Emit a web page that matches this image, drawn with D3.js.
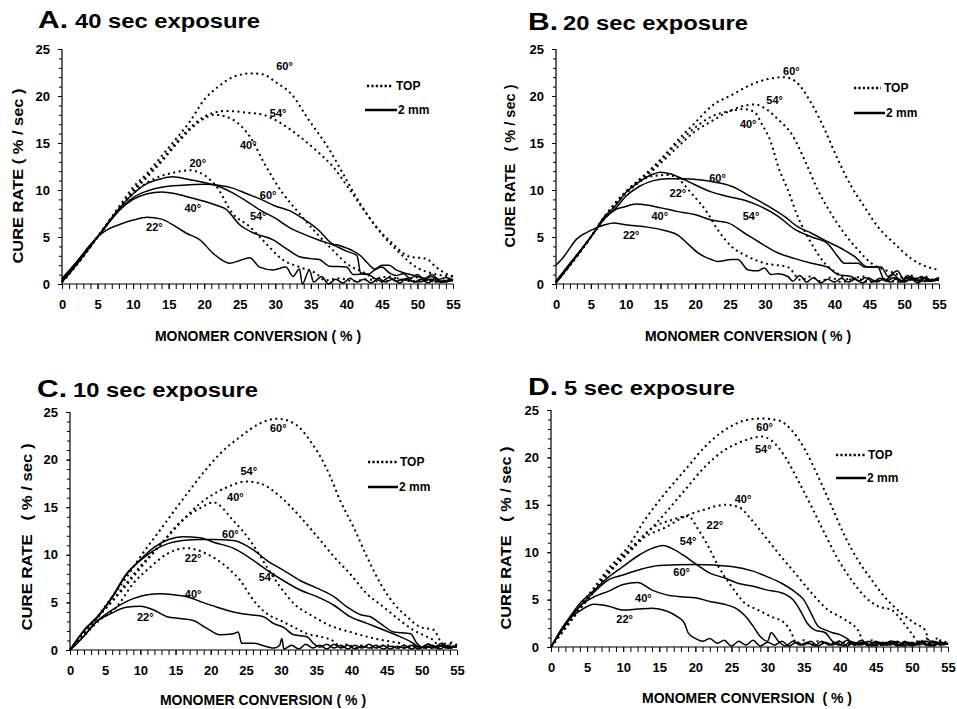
<!DOCTYPE html>
<html><head><meta charset="utf-8">
<script src="https://cdn.jsdelivr.net/npm/d3@7"></script>
<style>body{margin:0;background:#fff}svg{display:block}text{font-family:Arial,"Liberation Sans",sans-serif;font-weight:bold;fill:#000}</style>
</head><body>
<svg id="c" width="957" height="709"></svg>
<script>
// ---------- DATA (flat [x,y, x,y, ...] arrays, monomer conversion %, cure rate %/sec) ----------
const xTicks = [0,5,10,15,20,25,30,35,40,45,50,55];
const yTicks = [0,5,10,15,20,25];
const panelTitles = ["A.", "B.", "C.", "D."];
const exposures = ["40 sec exposure", "20 sec exposure", "10 sec exposure", "5 sec exposure"];
const legendNames = ["TOP", "2 mm"];

// Panel A: 40 s
const A_top60 = [0,0.3, 2,2, 5,5, 8,8.2, 10,10.3, 12,11.8, 14,13.6, 16,15.4, 18,17.3, 20,19.6, 22,21, 24,22, 26.6,22.4, 28.3,22.3, 30,21.5, 32.5,20, 34.4,17.8, 37.6,14.3, 40,11.1, 41.9,8.6, 44.2,6.1, 46.5,4.3, 48.9,2.9, 51.2,2.7, 52.6,1.8, 54,1.1, 55,0.8];
const A_top54 = [0,0.2, 2,2, 5,5, 8,8, 10,10, 12,11.6, 14,13.2, 16,15, 18,16.6, 20,17.8, 23,18.4, 26.4,18.2, 28.3,18, 31,17, 33.4,15.7, 36.2,13.9, 38.1,12.5, 40.5,10, 42.8,7.5, 45.1,5.2, 47.5,3.3, 49.8,1.8, 52.2,1.1, 55,0.8];
const A_top40 = [0,0.2, 2,2, 5,5, 8,8, 10,9.8, 12,11.4, 14,13, 16,14.8, 18,16.4, 20,17.6, 21.5,18, 24,17.5, 26.4,15.7, 28.7,12.5, 31,9.7, 33.4,7.5, 35.8,5.4, 38.1,3.6, 40,2.2, 42.8,1.1, 44,0.6, 46,0.8, 48,0.4, 50,0.7, 52,0.3, 55,0.5];
const A_top20 = [0,0.2, 2,2, 5,5, 8,8, 10,9.6, 12,10.8, 14,11.5, 16,11.9, 18,12.1, 19.5,11.8, 21.7,10.4, 24,7.5, 26.4,6.1, 28.7,4.3, 31,2.6, 33.4,1.8, 35.8,1.1, 37,0.4, 39,0.6, 41,0.3, 43,0.5, 45,0.2, 47,0.6, 49,0.3, 51,0.5, 53,0.2, 55,0.4];
const A_mm60 = [0,0.5, 2,2.3, 5,5, 8,7.8, 10,9.2, 12,9.9, 14,10.3, 17,10.5, 20,10.6, 22,10.5, 24,10.2, 26,9.6, 28,9, 30,8.3, 32,7.8, 34,6.9, 36,5.8, 38,4.3, 39,4.1, 41,3.5, 42,3, 43,2.2, 44,1.6, 45,2, 46,2, 47,1.5, 48,1.2, 49,1, 50,0.8, 51,0.6, 52,1, 53,0.5, 54,0.7, 55,0.4];
const A_mm54 = [0,0.2, 2,2, 5,5, 8,8, 10,9.6, 12,10.7, 14,11.2, 15.5,11.4, 18,11.1, 20,10.8, 22,10.4, 24,9.7, 26,8.8, 28,7.8, 30,7, 32,6, 34,5.3, 36,4.7, 38,4.2, 40,3.5, 41.5,3, 42,1.2, 43,1, 44,1.5, 45,1.8, 46,1.2, 47,0.9, 48,1.1, 49,0.6, 50,1, 51,0.5, 52,0.8, 53,0.3, 55,0.5];
const A_mm40 = [0,0.3, 2,2.2, 5,5, 8,7.8, 10,9, 12,9.6, 14,9.8, 16,9.6, 18,9.2, 20,8.8, 22,8.3, 23,8, 25,6.3, 27,5.4, 29.7,4.7, 31.5,3.8, 33.4,2.9, 35,2.7, 36.2,2.6, 37.6,1.9, 40,1.8, 41,1, 42.8,1.1, 44,0.6, 45,0.3, 46,0.7, 47,0.3, 48,0.5, 50,0.2, 52,0.5, 53,0.2, 55,0.4];
const A_mm22 = [0,0.6, 2,2.3, 4,4.2, 5,5, 6.2,5.7, 8,6.3, 10,6.8, 12,7.1, 14,6.9, 16,6.1, 17.5,5.4, 19.4,4.7, 21.2,3.3, 22.2,2.7, 23.6,2.2, 25,2.5, 26.4,2.8, 27.8,1.8, 29.7,1.5, 31.5,1.8, 32.5,0.8, 33.4,1.6, 33.8,0, 34.8,1.5, 35.4,0.2, 36.5,0.8, 37.5,0, 38.5,0.5, 39.5,0.1, 40.5,0.6, 41.5,0.2, 42.5,0.5, 43.5,0.1, 44.5,0.6, 45.5,0.2, 46.5,0.5, 47.5,0.1, 48.5,0.6, 49.5,0.2, 50.5,0.5, 51.5,0.1, 52.5,0.6, 53.5,0.2, 55,0.4];

// Panel B: 20 s
const B_top60 = [0,0.2, 2,2, 5,5, 7,7.2, 10,9.8, 12.7,11.6, 15.1,13.3, 17.5,15.3, 19.9,17.1, 22.3,18.9, 25.2,20.1, 28,21.2, 30.4,21.8, 32.8,22, 34.3,21.6, 36.7,19.2, 38.6,16.4, 40.5,13.2, 42.4,10.4, 44.3,8.2, 46.2,6.1, 48.6,4.3, 51,2.7, 53.4,1.8, 55,1.5];
const B_top54 = [0,0.2, 2,2, 5,5, 7,7.1, 10,9.6, 12.7,11.3, 15.1,12.9, 17.5,14.6, 19.9,16.2, 22.3,17.3, 25.2,18.5, 28.5,19.1, 30.4,18.5, 31.9,17.5, 33.8,16, 35.7,13.2, 37.6,10, 39.5,7.5, 41.4,5.4, 43.4,3.6, 45.3,2.2, 47.2,1.5, 49.1,1, 50,0.6, 51,0.9, 52,0.5, 53,0.8, 54,0.4, 55,0.7];
const B_top40 = [0,0.2, 2,2, 5,5, 7,7.2, 10,9.8, 12.7,11.5, 15.1,13.2, 17.5,15, 19.9,16.6, 22.3,17.8, 25,18.4, 27,18.6, 28.5,18.3, 29.5,17.1, 30.9,15, 31.9,12.5, 33.3,10, 34.7,7.2, 36.7,4.3, 38.6,2.2, 40.5,1.1, 42,0.5, 44,0.8, 46,0.3, 48,0.7, 50,0.3, 52,0.6, 55,0.4];
const B_top22 = [0,0.2, 2,2, 5,5, 7,7, 10,9.7, 12,10.9, 14,11.5, 16,11.6, 17.5,11.2, 19.4,9.7, 21.8,7.5, 23.2,5.8, 25.2,4, 27.6,2.9, 30,2.2, 33.3,1.8, 35.2,0.4, 36.5,0.8, 38,0.3, 39.5,0.7, 41,0.2, 43,0.6, 45,0.2, 47,0.5, 49,0.2, 51,0.6, 53,0.3, 55,0.5];
const B_mm60 = [0,0.3, 2,2.2, 5,5, 7,7, 8.5,8, 10,9.3, 12,10.4, 14,11, 16,11.2, 18.4,11.2, 22.3,10.9, 25.2,10.4, 28,9.3, 30.9,8.1, 32.8,7.2, 34.7,6.1, 36.7,5.4, 39,4.5, 41.4,3.6, 42.9,2.9, 44.8,1.8, 46.7,1.8, 47.7,0.8, 49,1.4, 50,0.5, 51,0.8, 52,0.3, 53,0.7, 54,0.4, 55,0.6];
const B_mm54 = [0,0.1, 2,2, 5,5, 7,7.2, 8.5,8.3, 10,9.7, 12,10.9, 14,11.7, 15,11.9, 16.5,11.7, 18.4,11.1, 22.3,9.8, 24.7,9.3, 27.1,8.9, 29.5,8.2, 31.9,7.2, 34.3,5.8, 36.7,5, 39,4.3, 40.5,2.9, 41.4,2.2, 43.4,2.2, 44.3,1.8, 46.2,1.8, 47.2,0.4, 48.5,1, 49.5,0.3, 50.5,0.9, 51.5,0.4, 52.5,0.8, 53.5,0.3, 55,0.7];
const B_mm40 = [0,0.2, 2,2.1, 5,5, 7,7, 8.5,7.9, 9.8,8.2, 11.5,8.5, 13,8.4, 15.1,8.1, 17.5,7.7, 19.9,7.4, 22.3,6.8, 24.7,6.5, 27.1,5.4, 29.5,4.3, 31.9,3.3, 34.3,2.7, 36.7,2.2, 39,1.8, 40.5,1, 42.4,0.8, 43.5,0.3, 44.5,0.7, 45.5,0.2, 46.5,0.6, 47.5,0.3, 48.5,0.7, 49.5,0.2, 51,0.5, 53,0.3, 55,0.6];
const B_mm22 = [0,2, 1,2.8, 3,4.8, 5,5.7, 7,6.3, 8.3,6.5, 10,6.3, 12.7,6.1, 15.6,5.7, 17.5,5.2, 18.9,4.3, 20.4,3.3, 22.3,2.6, 23.2,2.4, 25.2,2.6, 26.1,2.6, 27.6,1.5, 29,1.4, 29.9,1.7, 30.9,1, 31.9,1.1, 33.3,0.8, 34,0.3, 35,0.9, 36,0.2, 37,0.7, 38,0.1, 39,0.5, 40,0.2, 41,0.6, 42,0.2, 43,0.5, 44,0.1, 45,0.6, 46,0.2, 47,0.5, 48,0.2, 49,0.6, 50,0.2, 51,0.5, 52,0.1, 53,0.6, 54,0.3, 55,0.5];

// Panel C: 10 s
const C_top60 = [0,0, 2,1.8, 4,3.6, 6,5.6, 8,7.6, 10,9.8, 12.8,12.6, 15.6,15.4, 18.5,18.2, 21.3,20.6, 24.2,22.4, 27,23.8, 29.4,24.3, 31.3,24, 32.7,23.3, 34.1,22, 35.6,20.3, 37,18.2, 38.4,15.7, 40.3,12.9, 42.2,9.8, 44.1,7, 46,4.9, 47.9,3.5, 49.8,2.4, 51.7,2.1, 52.6,1, 53.5,0.4, 54.2,0.8, 55,0.5];
const C_top54 = [0,0, 2,1.8, 4,3.5, 6,5.2, 8,7, 10,8.8, 12,10.4, 14,12, 16,13.6, 18.5,15.4, 20,16.2, 22.3,17.1, 25.1,17.7, 27,17.5, 29.9,16.1, 32.7,14, 35.6,11.5, 37.5,9.8, 39.8,8, 42.2,5.9, 44.6,4.5, 46.9,3.1, 48.8,2.1, 50.7,1.4, 51.7,1, 52.5,0.4, 53.5,0.7, 55,0.4];
const C_top40 = [0,0, 2,1.8, 4,3.5, 6,5.1, 8,6.8, 10,8.6, 12.8,11, 15.6,13.4, 18.5,14.9, 20.4,15.5, 23.2,13.6, 25.6,11.5, 28,8.7, 29.9,6.6, 31.8,4.9, 34.6,3.5, 37.5,2.4, 39.8,1.9, 42.2,1.4, 44.6,1, 46.9,0.7, 48,0.3, 49,0.6, 50,0.2, 51,0.6, 52,0.3, 53,0.5, 55,0.3];
const C_top22 = [0,0, 2,1.5, 4,3, 6.6,4.5, 9,7, 11.4,8.7, 13.8,10.1, 16.6,10.7, 19.4,10.1, 22.3,8.7, 24.2,7.3, 26.1,5.2, 28,3.8, 29.9,3.1, 31.8,2.4, 33.7,1.7, 35.6,1.4, 37.5,0.9, 38.5,0.3, 39.5,0.6, 40.5,0.2, 41.5,0.5, 43,0.2, 45,0.5, 47,0.2, 49,0.4, 51,0.2, 53,0.5, 55,0.3];
const C_mm60 = [0,0, 2,2.1, 4,3.6, 6,5.6, 8,8, 10,9.4, 12,10.5, 14,11.2, 16,11.5, 18.5,11.6, 20.5,11.6, 23.2,11.5, 26.1,10.5, 28,9.4, 30.3,8.4, 32.7,7.3, 35.1,6.5, 37.5,5.6, 39.4,4.5, 41.3,3.7, 42.7,3.5, 44.1,2.8, 46,1.9, 48.4,1.7, 49.3,0.7, 50,0.3, 51,0.6, 52,0.2, 53,0.5, 54,0.2, 55,0.5];
const C_mm54 = [0,0, 2,2, 4,3.5, 6,5.5, 8,7.9, 10,9.5, 12,10.8, 14,11.6, 16,11.9, 18.5,11.8, 20.5,11.3, 23.2,10.7, 26.1,9.4, 28,8.4, 30.3,7.3, 32.7,6.3, 35.1,5.6, 37.5,4.7, 39.8,3.5, 42.2,2.8, 44.6,2.1, 46.9,1.4, 48.8,0.7, 49.8,0.2, 50.8,0.6, 51.8,0.3, 52.8,0.7, 53.8,0.2, 55,0.5];
const C_mm40 = [0,0, 1.9,1.4, 3.8,3, 6.6,4.5, 9,5.4, 11,5.8, 12.8,5.9, 14.7,5.8, 16.6,5.6, 18.5,5.1, 20.9,4.5, 23.2,4, 25.6,3.7, 27.5,3.5, 28.9,2.8, 30.3,2.4, 31.8,1.6, 33.7,1.4, 34.6,0.7, 35.5,0.3, 36.5,0.6, 37.5,0.2, 38.5,0.5, 39.5,0.1, 40.5,0.5, 41.5,0.2, 42.5,0.6, 43.5,0.2, 44.5,0.5, 45.5,0.1, 46.5,0.4, 47.5,0.2, 48.5,0.5, 49.5,0.1, 50.5,0.4, 51.5,0.2, 52.5,0.5, 53.5,0.2, 55,0.4];
const C_mm22 = [0,0, 1.9,1.4, 3.8,3, 6,3.9, 8,4.5, 10,4.6, 11.9,4.2, 13.8,3.5, 15.6,3.3, 17.5,3.1, 19.4,2.3, 21.3,1.6, 23.2,1.7, 23.9,1.9, 24.4,0.7, 26.1,0.7, 28,0.35, 29,0.2, 29.8,0.5, 30.1,1.2, 30.4,0.1, 31.5,0.5, 32.5,0.1, 33.5,0.6, 34.5,0.2, 35.5,0.5, 36.5,0.1, 37.5,0.6, 38.5,0.2, 39.5,0.5, 40.5,0.1, 41.5,0.4, 42.5,0.2, 43.5,0.5, 44.5,0.1, 45.5,0.4, 46.5,0.2, 47.5,0.5, 48.5,0.1, 49.5,0.4, 50.5,0.2, 51.5,0.5, 52.5,0.1, 53.5,0.4, 55,0.3];

// Panel D: 5 s
const D_top60 = [0,0, 2,2.2, 4,4.3, 6,6.3, 8,8.3, 10.7,10.6, 13,13.4, 15.8,16.2, 18.6,18.7, 21.3,21.1, 24.1,22.9, 26.9,23.9, 29.2,24.1, 31.5,23.9, 33.3,22.9, 35.2,20.8, 37,18, 38.9,14.8, 40.7,11.7, 42.5,9.2, 44.4,7.1, 46.2,5.3, 48.5,3.6, 50.4,2.5, 51.8,1.8, 52.5,0.5, 53.5,0.9, 54.3,0.3, 55,0.6];
const D_top54 = [0,0, 2,2.1, 4,4.2, 6,6.1, 8,8, 10.7,10.2, 13,11.8, 15.8,14.1, 18.6,16.6, 21.3,19, 24.1,20.8, 26.9,21.8, 29.2,22.2, 30.5,21.8, 32.4,20.1, 34.2,17.6, 36.1,14.8, 37.9,12, 39.8,9.2, 41.6,7.1, 43.5,5.3, 45.3,4.3, 47.2,3.9, 48.5,2.9, 49.9,1.5, 51,0.5, 52,0.9, 53,0.3, 54,0.7, 55,0.4];
const D_top40 = [0,0, 2,2, 4,4, 6,5.9, 8,7.8, 10.7,9.9, 13,11.6, 15.8,12.6, 18.6,13.8, 21.3,14.5, 24.1,15, 25.9,14.8, 27.8,13.4, 29.6,11.7, 31.5,9.9, 33.8,7.8, 36.1,5.7, 38.4,3.9, 40.7,2.9, 42.5,1.8, 43.5,0.4, 44.5,0.7, 45.5,0.2, 47,0.6, 49,0.3, 51,0.5, 53,0.2, 55,0.4];
const D_top22 = [0,0, 2,2, 4,4, 6,5.9, 8,7.8, 10.7,10, 13.9,12.5, 16.7,13.4, 19,13.8, 20.4,12.4, 21.8,10.6, 23.2,8.5, 25,6.4, 26.9,4.6, 28.7,3.9, 30.5,3.2, 32.4,2.5, 33.3,1.5, 34,0.4, 35,0.7, 36,0.2, 37,0.6, 38,0.3, 40,0.6, 42,0.2, 44,0.5, 46,0.2, 48,0.5, 50,0.2, 52,0.6, 55,0.3];
const D_mm54 = [0,0, 2,2.5, 4,4.6, 6,6, 8,7.4, 10,8.5, 12,9.6, 14,10.4, 15.5,10.7, 17,10.3, 18.5,9.6, 20,8.8, 22,7.8, 24,7.3, 26,6.7, 28,6.4, 30,6, 32,5.7, 33.5,5, 34.5,3.9, 35.5,2.5, 36.5,1.8, 38,1.5, 39,0.6, 40,0.2, 41,0.7, 42,0.2, 43,0.5, 44,0.1, 45,0.5, 46,0.2, 47,0.6, 48,0.2, 49,0.5, 50,0.1, 51,0.6, 52,0.2, 53,0.5, 54,0.2, 55,0.4];
const D_mm60 = [0,0, 2,2.4, 4,4.3, 6,5.8, 8,7.1, 10,7.6, 12,8.1, 15,8.6, 20,8.7, 25,8.5, 28,8, 30,7.4, 32,6.7, 34,5.7, 35,5, 36,3.6, 37,2.2, 38,1.8, 39,1.5, 40,1.3, 41,0.9, 42,0.3, 43,0.7, 44,0.2, 45,0.6, 46,0.2, 47,0.5, 48,0.1, 49,0.6, 50,0.2, 51,0.5, 52,0.2, 53,0.6, 54,0.3, 55,0.4];
const D_mm40 = [0,0, 2,2.3, 4,4.3, 6,5.3, 8,5.9, 10,6.6, 12,6.8, 14,6, 16,5.5, 18,5.3, 20,5.2, 22,4.8, 24,4.5, 26,3.9, 27,3.2, 28,2.2, 29,1.1, 30,0.6, 30.5,1.5, 31.5,0.6, 32.5,0.1, 33.5,0.6, 34.5,0.2, 35.5,0.5, 36.5,0.1, 37.5,0.6, 38.5,0.2, 39.5,0.5, 40.5,0.1, 41.5,0.6, 42.5,0.2, 43.5,0.5, 44.5,0.1, 45.5,0.5, 46.5,0.2, 47.5,0.6, 48.5,0.1, 49.5,0.5, 50.5,0.2, 51.5,0.6, 52.5,0.1, 53.5,0.5, 55,0.3];
const D_mm22 = [0,0, 2,2.5, 4,3.8, 6,4.5, 8,4.3, 10,3.9, 12,4, 14,4.1, 16,3.8, 17.5,3.2, 18.5,2.5, 19,1.5, 20,0.9, 21,0.6, 22,0.9, 23,0.4, 24,0.7, 25,0.1, 26,0.6, 27,0.2, 28,0.7, 29,0.1, 30,0.5, 31,0.2, 32,0.6, 33,0.1, 34,0.5, 35,0.2, 36,0.6, 37,0.1, 38,0.5, 39,0.2, 40,0.6, 41,0.1, 42,0.5, 43,0.2, 44,0.6, 45,0.1, 46,0.5, 47,0.2, 48,0.6, 49,0.1, 50,0.5, 51,0.2, 52,0.6, 53,0.1, 54,0.5, 55,0.3];

// Curve annotations: [text, x (conversion), y (rate)]
const A_labels = [["60°",31.3,23.2],["54°",30.4,18.2],["40°",26.2,14.8],["20°",19.1,12.9],["60°",29,9.5],["54°",27.6,7.2],["40°",18.4,8.1],["22°",13,6.1]];
const B_labels = [["60°",33.8,22.6],["54°",31.4,19.6],["40°",27.6,17],["60°",23.2,11.3],["22°",17.5,9.7],["54°",28,7.2],["40°",14.9,7.2],["22°",10.8,5.2]];
const C_labels = [["60°",29.6,23.3],["54°",25.4,18.8],["40°",23.5,16.1],["22°",17.5,9.6],["60°",22.8,12.2],["54°",28,7.6],["40°",17.5,5.9],["22°",10.7,3.4]];
const D_labels = [["60°",29.6,23.2],["54°",29.4,20.9],["40°",26.6,15.6],["22°",22.7,12.9],["54°",19,11.2],["60°",18.1,7.9],["40°",12.8,5.2],["22°",10.2,2.9]];

// ---------- LAYOUT ----------
const panels = [
  {L:62, R:453, T:49, B:284, tops:[A_top60,A_top54,A_top40,A_top20], mms:[A_mm60,A_mm54,A_mm40,A_mm22], labels:A_labels,
   t1:[38,68,28], t2:[75,260], leg:[367,393,86,365,397,110], xl:[258,341], yl:[18,176,175]},
  {L:556, R:939, T:49, B:284, tops:[B_top60,B_top54,B_top40,B_top22], mms:[B_mm60,B_mm54,B_mm40,B_mm22], labels:B_labels,
   t1:[528,558,30], t2:[563,748], leg:[854,881,88,854,885,113], xl:[748,341], yl:[510,166,163]},
  {L:70, R:457, T:412, B:650, tops:[C_top60,C_top54,C_top40,C_top22], mms:[C_mm60,C_mm54,C_mm40,C_mm22], labels:C_labels,
   t1:[37,67,397], t2:[73,258], leg:[368,397,462,368,398,487], xl:[263,705], yl:[27,537,187]},
  {L:551, R:948, T:410, B:647, tops:[D_top60,D_top54,D_top40,D_top22], mms:[D_mm60,D_mm54,D_mm40,D_mm22], labels:D_labels,
   t1:[528,558,395], t2:[564,735], leg:[836,865,455,836,866,478], xl:[747,703], yl:[506,538,183]}
];
const yTitles = ["CURE RATE ( % / sec )","CURE RATE   ( % / sec )","CURE RATE   ( % / sec )","CURE RATE   ( % / sec )"];
const xTitles = ["MONOMER CONVERSION ( % )","MONOMER CONVERSION ( % )","MONOMER CONVERSION ( % )","MONOMER CONVERSION  ( % )"];

const svg = d3.select("#c");
const pairs = a => { const o=[]; for (let i=0;i<a.length;i+=2) o.push([a[i],a[i+1]]); return o; };

panels.forEach((p, i) => {
  const x = d3.scaleLinear().domain([0,55]).range([p.L, p.R]);
  const y = d3.scaleLinear().domain([0,25]).range([p.B, p.T]);
  const g = svg.append("g");
  const line = d3.line().x(d => x(d[0])).y(d => y(d[1])).curve(d3.curveMonotoneX);

  // series
  p.mms.forEach(s => g.append("path").attr("d", line(pairs(s))).attr("fill","none").attr("stroke","#000").attr("stroke-width",1.5));
  p.tops.forEach(s => g.append("path").attr("d", line(pairs(s))).attr("fill","none").attr("stroke","#000").attr("stroke-width",2).attr("stroke-dasharray","2,3.5"));

  // axes
  const minorX = d3.range(0,56,1), minorY = d3.range(0,26,1);
  const ax = g.append("g").attr("transform",`translate(0,${p.B})`)
    .call(d3.axisBottom(x).tickValues(minorX).tickSize(5).tickFormat(""));
  const axL = g.append("g").attr("transform",`translate(0,${p.B})`)
    .call(d3.axisBottom(x).tickValues(xTicks).tickSize(5).tickPadding(11).tickFormat(d3.format("d")));
  axL.select(".domain").remove();
  const ay = g.append("g").attr("transform",`translate(${p.L},0)`)
    .call(d3.axisLeft(y).tickValues(minorY).tickSize(3).tickFormat(""));
  const ayL = g.append("g").attr("transform",`translate(${p.L},0)`)
    .call(d3.axisLeft(y).tickValues(yTicks).tickSize(4).tickPadding(8).tickFormat(d3.format("d")));
  ayL.select(".domain").remove();
  g.selectAll(".domain").attr("d", null);
  ax.select(".domain").remove(); ay.select(".domain").remove();
  g.append("line").attr("x1",p.L).attr("x2",p.R).attr("y1",p.B).attr("y2",p.B).attr("stroke","#000").attr("stroke-width",1.2);
  g.append("line").attr("x1",p.L).attr("x2",p.L).attr("y1",p.T).attr("y2",p.B).attr("stroke","#000").attr("stroke-width",1.2);
  g.selectAll(".tick line").attr("stroke","#000");
  g.selectAll(".tick text").style("font-size","13px").style("font-weight","bold").style("font-family","Arial, 'Liberation Sans', sans-serif").attr("fill","#000");

  // curve labels
  p.labels.forEach(l => g.append("text").attr("x",x(l[1])).attr("y",y(l[2])).attr("dy","0.35em")
    .attr("text-anchor","middle").style("font-size","11px").text(l[0]));

  // titles
  svg.append("text").attr("x",p.t1[0]).attr("y",p.t1[2]).style("font-size","24px")
    .attr("textLength",p.t1[1]-p.t1[0]).attr("lengthAdjust","spacingAndGlyphs").text(panelTitles[i]);
  svg.append("text").attr("x",p.t2[0]).attr("y",p.t1[2]).style("font-size","20px")
    .attr("textLength",p.t2[1]-p.t2[0]).attr("lengthAdjust","spacingAndGlyphs").text(exposures[i]);

  // legend
  const lg = p.leg;
  svg.append("line").attr("x1",lg[0]).attr("x2",lg[1]).attr("y1",lg[2]).attr("y2",lg[2]).attr("stroke","#000").attr("stroke-width",2.5).attr("stroke-dasharray","2.2,2.2");
  svg.append("text").attr("x",lg[1]+3).attr("y",lg[2]).attr("dy","0.35em").style("font-size","12px").text(legendNames[0]);
  svg.append("line").attr("x1",lg[3]).attr("x2",lg[4]).attr("y1",lg[5]).attr("y2",lg[5]).attr("stroke","#000").attr("stroke-width",2.5);
  svg.append("text").attr("x",lg[4]+1).attr("y",lg[5]).attr("dy","0.35em").style("font-size","12px").text(legendNames[1]);

  // axis titles
  svg.append("text").attr("x",p.xl[0]).attr("y",p.xl[1]).attr("text-anchor","middle").style("font-size","14px").style("white-space","pre").text(xTitles[i]);
  svg.append("text").attr("transform",`translate(${p.yl[0]},${p.yl[1]}) rotate(-90)`).attr("dy","0.35em")
    .attr("text-anchor","middle").style("font-size","14px").style("white-space","pre")
    .attr("textLength",p.yl[2]).attr("lengthAdjust","spacingAndGlyphs").text(yTitles[i]);
});
</script>
</body></html>
